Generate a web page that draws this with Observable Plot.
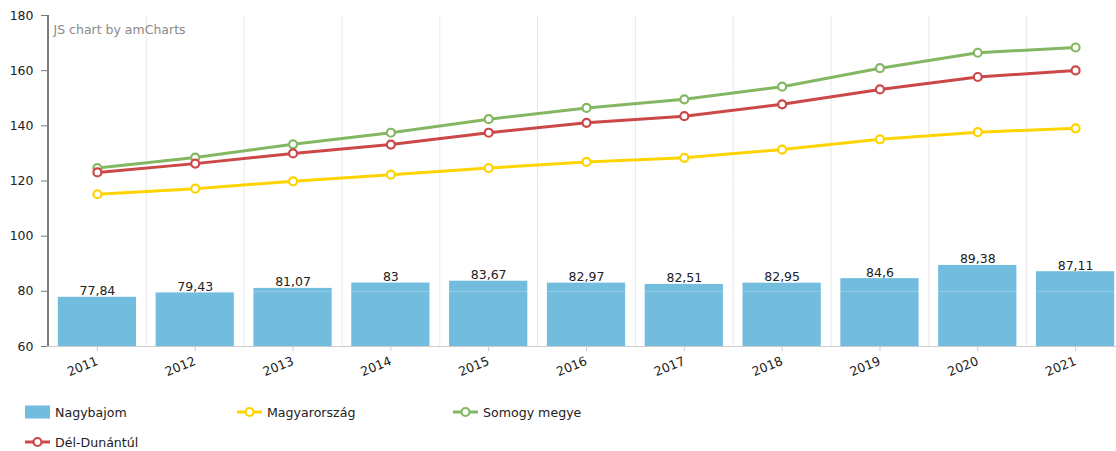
<!DOCTYPE html>
<html>
<head>
<meta charset="utf-8">
<script src="https://cdn.jsdelivr.net/npm/d3@7"></script>
<script src="https://cdn.jsdelivr.net/npm/@observablehq/plot@0.6"></script>
<style>
  html, body { margin: 0; padding: 0; background: #fff; }
  #wrap { position: relative; width: 1116px; height: 451px; overflow: hidden; font-family: "DejaVu Sans", Verdana, sans-serif; }
  #chart { position: absolute; left: 0; top: 0; }
  .leg { position: absolute; display: flex; align-items: center; font-size: 12.6px; color: #222; height: 14px; white-space: nowrap; }
  .leg svg { margin-right: 5px; display: block; }
</style>
</head>
<body>
<div id="wrap"><div id="chart"></div></div>
<script>
const years = ["2011","2012","2013","2014","2015","2016","2017","2018","2019","2020","2021"];
const nagybajom = [77.84, 79.43, 81.07, 83, 83.67, 82.97, 82.51, 82.95, 84.6, 89.38, 87.11];
const magyarorszag = [115.2, 117.2, 119.9, 122.3, 124.7, 126.9, 128.4, 131.4, 135.1, 137.7, 139.1];
const somogy = [124.7, 128.5, 133.3, 137.5, 142.4, 146.5, 149.6, 154.2, 160.9, 166.5, 168.4];
const delDunantul = [123.1, 126.3, 130.0, 133.2, 137.5, 141.1, 143.5, 147.8, 153.2, 157.7, 160.1];
const yTicks = [60, 80, 100, 120, 140, 160, 180];
const seriesNames = ["Nagybajom", "Magyarország", "Somogy megye", "Dél-Dunántúl"];
const colors = ["#67b7dc", "#fdd400", "#84b761", "#cc4748"];

const table = years.map((y, i) => ({year: y, nag: nagybajom[i], mag: magyarorszag[i], som: somogy[i], del: delDunantul[i]}));

const xRange = [48, 1124];
const step = (xRange[1] - xRange[0]) / years.length;
const fmt = v => String(v).replace(".", ",");

const lineSeries = [["mag", colors[1]], ["som", colors[2]], ["del", colors[3]]];

const chart = Plot.plot({
  width: 1116,
  height: 395,
  marginLeft: 47,
  marginTop: 15,
  marginBottom: 49,
  marginRight: 0,
  style: {fontFamily: "'DejaVu Sans', Verdana, sans-serif", fontSize: "12.5px", background: "transparent", color: "#222"},
  x: {domain: years, range: xRange, padding: 0, round: false, label: null},
  y: {domain: [60, 180], label: null},
  marks: [
    Plot.ruleX(years.slice(1), {x: d => d, dx: -step / 2, stroke: "#e8e8e8", strokeWidth: 1}),
    Plot.barY(table, {x: "year", y1: 60, y2: "nag", fill: colors[0], fillOpacity: 0.93, insetLeft: step * 0.1, insetRight: step * 0.1}),
    Plot.ruleY(yTicks.slice(1), {stroke: "#fff", strokeOpacity: 0.25}),
    Plot.text(table, {x: "year", y: "nag", text: d => fmt(d.nag), lineAnchor: "bottom", dy: -2, fontSize: 12.5, fill: "#222"}),
    ...lineSeries.flatMap(([k, c]) => [
      Plot.line(table, {x: "year", y: k, stroke: c, strokeWidth: 3}),
      Plot.dot(table, {x: "year", y: k, r: 4, fill: "#fff", stroke: c, strokeWidth: 2.2})
    ]),
    Plot.ruleY([60], {stroke: "#ccc", strokeWidth: 1}),
    Plot.ruleX([years[0]], {dx: -step / 2 - 0.5, stroke: "#7a7a7a", strokeWidth: 2}),
    Plot.axisY({ticks: yTicks, tickSize: 6, text: null, stroke: "#7a7a7a", label: null}),
    Plot.axisY({ticks: yTicks, tickSize: 0, tickPadding: 14, fill: "#222", fontSize: 12.5, label: null}),
    Plot.axisX({tickSize: 5, text: null, stroke: "#ccc", label: null}),
    Plot.axisX({tickSize: 0, tickPadding: 14, tickRotate: -22, fill: "#222", fontSize: 12.5, label: null}),
    Plot.text(["JS chart by amCharts"], {frameAnchor: "top-left", dx: 6, dy: 10, fill: "#8a8a8a", fontSize: 12.5})
  ]
});
document.getElementById("chart").appendChild(chart);

// legend
const wrap = document.getElementById("wrap");
const legPos = [[25, 405], [237, 405], [453, 405], [25, 435]];
seriesNames.forEach((name, i) => {
  const div = document.createElement("div");
  div.className = "leg";
  div.style.left = legPos[i][0] + "px";
  div.style.top = legPos[i][1] + "px";
  let marker;
  if (i === 0) {
    marker = `<svg width="25" height="14"><rect x="0" y="0.5" width="25" height="13" fill="${colors[0]}" fill-opacity="0.93"/></svg>`;
  } else {
    marker = `<svg width="25" height="14"><line x1="0" x2="25" y1="7" y2="7" stroke="${colors[i]}" stroke-width="3"/><circle cx="12.5" cy="7" r="4" fill="#fff" stroke="${colors[i]}" stroke-width="2.2"/></svg>`;
  }
  div.innerHTML = marker + `<span>${name}</span>`;
  wrap.appendChild(div);
});
</script>
</body>
</html>
